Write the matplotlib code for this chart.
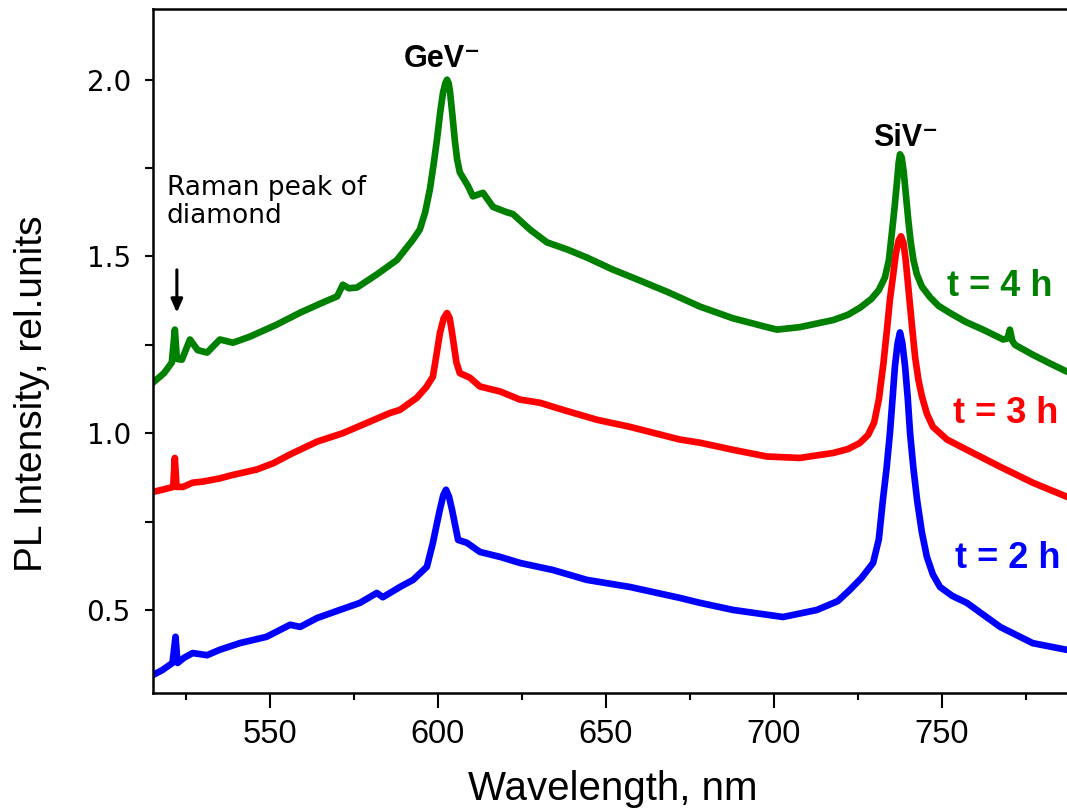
import numpy as np
import matplotlib
matplotlib.use("Agg")
import matplotlib.pyplot as plt
from matplotlib.ticker import MultipleLocator

# PL spectra (wavelength nm, intensity rel. units)
wl_4h = [515.2, 518.5, 520.8, 521.7, 522.3, 523.8, 526.2, 528.5, 531.3, 535.1, 539, 544, 552, 559,
         565.8, 570, 571.7, 573.5, 575.9, 581.8, 587.8, 592.6, 594.6, 596.2, 597.6, 598.7, 599.7,
         600.7, 601.5, 602.2, 602.7, 603.2, 603.6, 604.3, 605, 605.7, 606.5, 608.9, 610.4, 613.4,
         616.4, 620.5, 622.3, 627.4, 632.4, 638.4, 644.3, 652, 658, 668.2, 678, 687.8, 697.9, 700.9,
         707.7, 717.6, 722, 725.6, 729, 731.2, 733, 734.2, 735.1, 735.9, 736.6, 737.1, 737.5, 738.0,
         738.6, 739.3, 740.0, 740.7, 741.5, 742.5, 744.0, 746.4, 749, 752.4, 757, 762.2, 768.2, 769.5,
         770.2, 770.9, 771.7, 777, 782, 787.2]
int_4h = [1.143, 1.17, 1.20, 1.293, 1.21, 1.208, 1.265, 1.235, 1.228, 1.265, 1.256, 1.273, 1.307, 1.341,
          1.37, 1.387, 1.42, 1.41, 1.412, 1.449, 1.49, 1.548, 1.576, 1.625, 1.69, 1.76, 1.83,
          1.91, 1.963, 1.99, 2.0, 1.99, 1.965, 1.9, 1.83, 1.775, 1.738, 1.70, 1.67, 1.68,
          1.64, 1.625, 1.62, 1.576, 1.54, 1.52, 1.497, 1.463, 1.44, 1.40, 1.358, 1.325, 1.300, 1.293,
          1.300, 1.32, 1.335, 1.355, 1.38, 1.405, 1.44, 1.49, 1.568, 1.64, 1.71, 1.765, 1.789, 1.78,
          1.74, 1.67, 1.6, 1.54, 1.49, 1.45, 1.415, 1.385, 1.36, 1.34, 1.315, 1.293, 1.265, 1.268,
          1.293, 1.262, 1.25, 1.222, 1.198, 1.174]

wl_3h = [515.2, 518, 521.2, 521.7, 522.2, 524.1, 527, 530, 535, 539, 546, 551, 556, 564, 571.7,
         579.8, 585.7, 588.7, 593.7, 596.5, 598.5, 599.7, 600.6, 601.7, 602.7, 603.5, 604.2, 605.5,
         606.5, 609.5, 612.5, 618.5, 624.4, 630.4, 637.2, 647.3, 657.1, 672, 678, 687.8, 697.9,
         707.7, 717.6, 722, 725.5, 728, 729.8, 731.2, 732.6, 733.7, 734.5, 735.5, 736.3, 737.1,
         737.8, 738.5, 739.2, 740.0, 741.1, 742.0, 743.0, 744.0, 745.5, 747.3, 751.5, 757.4, 767.3,
         777, 787.2]
int_3h = [0.834, 0.84, 0.848, 0.93, 0.848, 0.848, 0.86, 0.863, 0.872, 0.882, 0.897, 0.915, 0.94, 0.976, 1.0,
          1.033, 1.057, 1.066, 1.10, 1.13, 1.16, 1.23, 1.284, 1.325, 1.34, 1.325, 1.284, 1.20,
          1.17, 1.157, 1.132, 1.118, 1.095, 1.086, 1.066, 1.038, 1.018, 0.982, 0.973, 0.953, 0.934,
          0.93, 0.944, 0.955, 0.972, 0.995, 1.03, 1.095, 1.2, 1.3, 1.378, 1.45, 1.51, 1.545,
          1.557, 1.54, 1.49, 1.41, 1.3, 1.215, 1.15, 1.105, 1.055, 1.018, 0.982, 0.953, 0.905,
          0.86, 0.82]

wl_2h = [515.2, 518, 521, 521.9, 522.5, 524.5, 527, 531.3, 535, 541, 549, 556, 559, 564, 570.8,
         576.8, 581.8, 583.6, 588.7, 592.6, 596.7, 598.5, 599.7, 600.6, 601.6, 602.4, 603.3, 604.2,
         606, 608.6, 612.5, 618.5, 624.4, 634.2, 644.3, 657.1, 672, 678, 687.8, 702.7, 712.8, 719,
         722.6, 726, 729.5, 731.2, 732.4, 733.5, 734.5, 735.3, 736, 736.8, 737.5, 738.2, 739, 739.8,
         740.5, 741.5, 742.6, 744, 745.5, 747.3, 749.4, 753, 757.4, 767.3, 777, 787.2]
int_2h = [0.316, 0.33, 0.35, 0.424, 0.35, 0.365, 0.378, 0.372, 0.387, 0.406, 0.424, 0.458, 0.452, 0.477, 0.50,
          0.52, 0.548, 0.536, 0.565, 0.585, 0.622, 0.69, 0.745, 0.785, 0.825, 0.84, 0.82, 0.783,
          0.698, 0.69, 0.664, 0.65, 0.633, 0.613, 0.585, 0.565, 0.534, 0.52, 0.50, 0.48, 0.50, 0.525,
          0.557, 0.59, 0.633, 0.7, 0.81, 0.9, 1.0, 1.1, 1.19, 1.255, 1.285, 1.255, 1.19, 1.1,
          1.0, 0.9, 0.81, 0.72, 0.65, 0.6, 0.565, 0.54, 0.52, 0.452, 0.406, 0.387]

labels = ["t = 4 h", "t = 3 h", "t = 2 h"]
colors = ["#008000", "#ff0000", "#0000ff"]

fig = plt.figure(figsize=(10.67, 8.09), dpi=100)
ax = fig.add_axes([153 / 1067, 116 / 809, 914 / 1067, 684 / 809])

for wl, y, c in zip([wl_4h, wl_3h, wl_2h], [int_4h, int_3h, int_2h], colors):
    ax.plot(wl, y, color=c, lw=4.8, solid_joinstyle="round", solid_capstyle="round")

ax.set_xlim(515.2, 787.2)
ax.set_ylim(0.265, 2.20)
ax.spines["right"].set_visible(False)
for s in ["left", "bottom", "top"]:
    ax.spines[s].set_linewidth(1.8)

ax.xaxis.set_major_locator(MultipleLocator(50))
ax.xaxis.set_minor_locator(MultipleLocator(25))
ax.yaxis.set_major_locator(MultipleLocator(0.5))
ax.yaxis.set_minor_locator(MultipleLocator(0.25))
ax.tick_params(axis="x", which="major", length=11, width=1.5, pad=8)
ax.tick_params(axis="x", which="minor", length=5, width=1.5)
ax.tick_params(axis="y", which="both", length=6, width=1.5, pad=10)
ax.set_xticks([550, 600, 650, 700, 750])
ax.set_xticklabels(["550", "600", "650", "700", "750"], family="Liberation Sans", fontsize=23.5)
ax.set_yticks([0.5, 1.0, 1.5, 2.0])
ax.set_yticklabels(["0.5", "1.0", "1.5", "2.0"], family="DejaVu Sans", fontsize=20)

fig.text(613 / 1067, 9 / 809, "Wavelength, nm", family="Liberation Sans", fontsize=29,
         ha="center", va="baseline")
fig.text(32 / 1067, 0.513, "PL Intensity, rel.units", family="Liberation Sans", fontsize=28,
         rotation=90, ha="center", va="center")

fam = ["Liberation Sans", "DejaVu Sans"]
ax.text(601.2, 2.035, "GeV\u207b", family=fam, fontsize=22, fontweight="bold",
        ha="center", va="baseline")
ax.text(739.3, 1.812, "SiV\u207b", family=fam, fontsize=22, fontweight="bold",
        ha="center", va="baseline")
ax.text(519.3, 1.73, "Raman peak of\ndiamond", family="DejaVu Sans", fontsize=19,
        ha="left", va="top", linespacing=1.1)
ax.annotate("", xy=(522.3, 1.333), xytext=(522.3, 1.47),
            arrowprops=dict(arrowstyle="-|>,head_width=0.35,head_length=0.8", color="black", lw=2.2))

ax.text(751.5, 1.387, labels[0], color=colors[0], family=fam, fontsize=26, fontweight="bold",
        ha="left", va="baseline")
ax.text(753.3, 1.03, labels[1], color=colors[1], family=fam, fontsize=26, fontweight="bold",
        ha="left", va="baseline")
ax.text(753.9, 0.619, labels[2], color=colors[2], family=fam, fontsize=26, fontweight="bold",
        ha="left", va="baseline")

fig.savefig("out.png", dpi=100)
